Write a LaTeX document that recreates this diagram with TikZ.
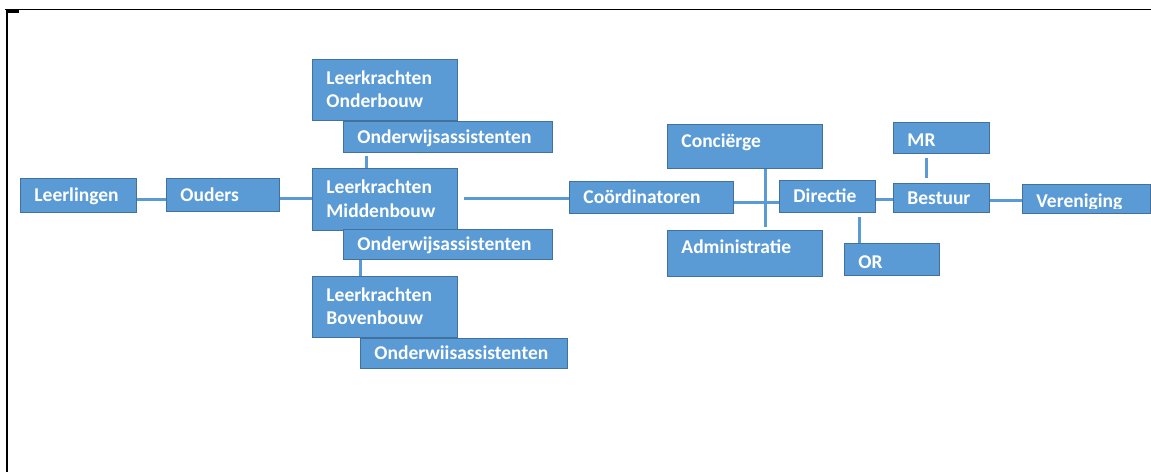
\documentclass[tikz,border=0pt]{standalone}
\usepackage{fontspec}
\setmainfont{Carlito}
\usepackage{xcolor}
\usepackage{tikz}
\usetikzlibrary{backgrounds}
\definecolor{boxblue}{HTML}{5B9BD5}
\definecolor{boxline}{HTML}{41719C}

\begin{document}
\begin{tikzpicture}[scale=1,x=1pt,y=-1pt,
	orgbox/.style={draw=boxline,fill=boxblue,line width=0.9pt,text=white,anchor=north west,inner xsep=14pt,inner ysep=0pt,align=left,text height=12.5pt,text depth=0pt,font=\fontsize{19.5}{23.5}\selectfont\bfseries},
	twoline/.style={text depth=23.5pt},
	link/.style={draw=boxblue,line width=3pt}]
	\useasboundingbox (0,0) rectangle (1151,472);
	\draw[line width=1.3pt] (5,9.5) -- (1151,9.5);
	\draw[line width=2pt] (6.5,9) -- (6.5,472);
	\fill[black] (6,9) rectangle (19,13);
	\node[orgbox,text width=88pt,minimum height=34pt] (leerlingen) at (20,178) {Leerlingen};
	\node[orgbox,text width=85pt,minimum height=33pt] (ouders) at (166,178) {Ouders};
	\node[orgbox,twoline,text width=117pt,minimum height=61pt] (lkonder) at (312,59) {Leerkrachten\\Onderbouw};
	\node[orgbox,text width=181pt,minimum height=31pt] (owaonder) at (343,121) {Onderwijsassistenten};
	\node[orgbox,twoline,text width=117pt,minimum height=62pt] (lkmidden) at (312,168) {Leerkrachten\\Middenbouw};
	\node[orgbox,text width=181pt,minimum height=30pt] (owamidden) at (343,229) {Onderwijsassistenten};
	\node[orgbox,twoline,text width=117pt,minimum height=61pt] (lkboven) at (312,276) {Leerkrachten\\Bovenbouw};
	\node[orgbox,text width=179pt,minimum height=30pt] (owaboven) at (360,338) {Onderwiisassistenten};
	\node[orgbox,text width=136pt,minimum height=32pt] (coord) at (569,181) {Coördinatoren};
	\node[orgbox,text width=127pt,minimum height=44pt,text depth=10pt] (concierge) at (667,124) {Conciërge};
	\node[orgbox,text width=127pt,minimum height=46pt,text depth=12pt] (admin) at (667,230) {Administratie};
	\node[orgbox,text width=68pt,minimum height=32pt] (directie) at (779,180) {Directie};
	\node[orgbox,text width=67pt,minimum height=32pt,text height=18.5pt] (or) at (844,243) {OR};
	\node[orgbox,text width=68pt,minimum height=31pt,text height=16.5pt] (mr) at (893,122) {MR};
	\node[orgbox,text width=68pt,minimum height=29pt] (bestuur) at (893,183) {Bestuur};
	\node[orgbox,text width=100pt,minimum height=29pt,text height=17.5pt] (vereniging) at (1022,184) {Vereniging};
	\fill[boxblue] ([xshift=1pt,yshift=1pt]vereniging.south west) rectangle ([xshift=-1pt,yshift=4.5pt]vereniging.south east);
	\begin{scope}[on background layer]
		\draw[link] ([yshift=-4pt]leerlingen.east) -- ([yshift=-4pt]leerlingen.east -| ouders.west);
		\draw[link] ([yshift=-3.5pt]ouders.east) -- ([yshift=-3.5pt]ouders.east -| lkmidden.west);
		\draw[link,shorten <=3pt] ([xshift=23pt]owaonder.south west) -- ([xshift=23pt]owaonder.south west |- lkmidden.north);
		\draw[link] ([xshift=17pt]owamidden.south west) -- ([xshift=17pt]owamidden.south west |- lkboven.north);
		\draw[link,shorten >=6pt] ([yshift=-1pt]coord.west) -- ([yshift=-1pt]coord.west -| lkmidden.east);
		\draw[link] ([yshift=-5pt]coord.east) -- ([yshift=-5pt]coord.east -| directie.west);
		\draw[link,shorten >=3pt] ([xshift=98pt]concierge.south west) -- ([xshift=98pt]concierge.south west |- admin.north);
		\draw[link] ([yshift=-3pt]directie.east) -- ([yshift=-3pt]directie.east -| bestuur.west);
		\draw[link,shorten >=4pt] ([xshift=15pt]or.north west) -- ([xshift=15pt]or.north west |- directie.south);
		\draw[link,shorten <=4pt,shorten >=5pt] ([xshift=33pt]mr.south west) -- ([xshift=33pt]mr.south west |- bestuur.north);
		\draw[link] ([yshift=-2.5pt]bestuur.east) -- ([yshift=-2.5pt]bestuur.east -| vereniging.west);
	\end{scope}
\end{tikzpicture}
\end{document}
